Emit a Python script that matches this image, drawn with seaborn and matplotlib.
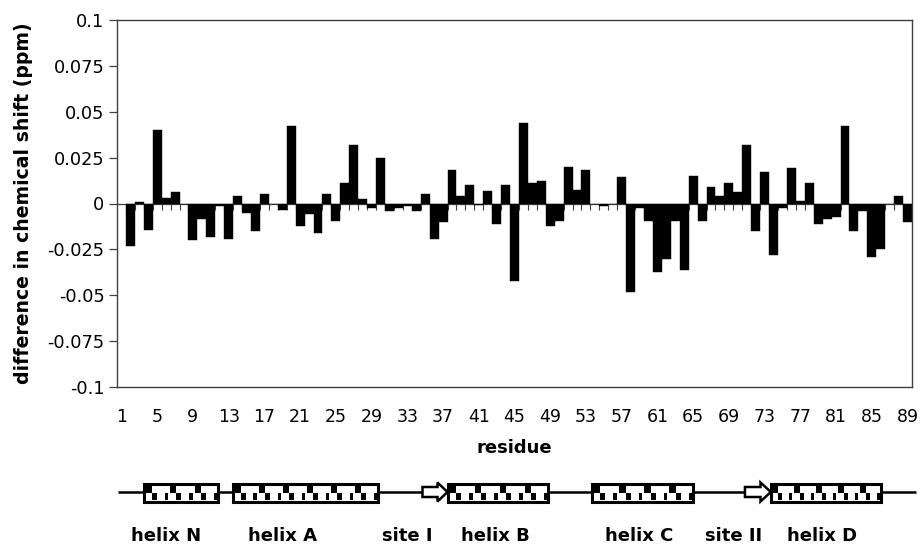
import numpy as np
import pandas as pd
import matplotlib
matplotlib.use("Agg")
import matplotlib.pyplot as plt
from matplotlib.patches import Rectangle, Polygon
from matplotlib.ticker import FuncFormatter
import seaborn as sns

# ---------------- data ----------------
residues = list(range(1, 90))
shift_diff = [np.nan, -0.023, 0.001, -0.0145, 0.040, 0.003, 0.006, 0.0, -0.020, -0.0085,
              -0.018, -0.0015, -0.0195, 0.0043, -0.0054, -0.015, 0.0054, 0.0, -0.0036, 0.042,
              -0.012, -0.0055, -0.016, 0.0054, -0.0094, 0.0114, 0.032, 0.0024, -0.0022, 0.025,
              -0.0042, -0.0027, -0.0015, -0.0042, 0.0054, -0.0196, -0.0101, 0.018, 0.0043, 0.0103,
              -0.001, 0.0067, -0.0114, 0.0103, -0.042, 0.044, 0.0114, 0.0123, -0.012, -0.0094,
              0.020, 0.0072, 0.018, 0.0, -0.0013, 0.0, 0.0145, -0.048, -0.0024, -0.0094,
              -0.0375, -0.0304, -0.0094, -0.036, 0.015, -0.0094, 0.0092, 0.0043, 0.0114, 0.0062,
              0.032, -0.015, 0.0174, -0.028, -0.0024, 0.0196, 0.0013, 0.0114, -0.0114, -0.0085,
              -0.0072, 0.042, -0.015, -0.0043, -0.029, -0.025, 0.0, 0.0043, -0.010]
x_tick_labels = list(range(1, 90, 4))
y_ticks = [-0.1, -0.075, -0.05, -0.025, 0, 0.025, 0.05, 0.075, 0.1]

# secondary-structure schematic (residue units)
helix_names = ["helix N", "helix A", "helix B", "helix C", "helix D"]
helix_start = [3.5, 13.5, 37.6, 53.7, 73.7]
helix_end = [11.8, 29.7, 48.8, 65.0, 86.0]
helix_label_pos = [6.0, 19.0, 42.9, 59.0, 79.4]
site_names = ["site I", "site II"]
site_start = [34.7, 70.8]
site_end = [37.5, 73.7]
site_label_pos = [33.0, 69.5]

df = pd.DataFrame({"residue": residues, "shift": shift_diff})

# ---------------- figure ----------------
sns.set_theme(style="white")
plt.rcParams["font.family"] = ["DejaVu Sans"]

W, H = 922, 544
fig = plt.figure(figsize=(W / 100, H / 100), dpi=100)
fig.patch.set_facecolor("white")
ax = fig.add_axes([117 / W, 1 - 387 / H, (912 - 117) / W, (387 - 20) / H])

# baseline & category boundary ticks (under bars)
bounds = np.array(residues[:-1]) + 0.5
ax.axhline(0, color="#404040", lw=0.9, zorder=1)
ax.vlines(bounds, -0.0036, 0, color="#404040", lw=0.8, zorder=1)

sns.barplot(data=df, x="residue", y="shift", native_scale=True, width=1,
            color="black", saturation=1, errorbar=None, ax=ax,
            edgecolor="black", linewidth=0.3, zorder=2)

ax.set_xlim(0.5, 89.5)
ax.set_ylim(-0.1, 0.1)
ax.set_xticks(x_tick_labels)
ax.set_xticklabels([str(v) for v in x_tick_labels])
ax.set_yticks(y_ticks)
ax.yaxis.set_major_formatter(FuncFormatter(lambda v, p: "%g" % round(v, 4)))

ax.tick_params(axis="x", length=0, pad=15, labelsize=12.5, colors="black")
ax.tick_params(axis="y", length=6, width=0.9, direction="out", pad=3,
               labelsize=12.8, colors="black", color="#404040", left=True)
for s in ax.spines.values():
    s.set_visible(True)
    s.set_color("#404040")
    s.set_linewidth(1.0)

ax.set_xlabel("residue", fontsize=13, fontweight="bold", color="black")
ax.xaxis.set_label_coords(0.5, (387 - 448) / 367)
ax.xaxis.label.set_va("center")
ax.set_ylabel("difference in chemical shift (ppm)", fontsize=13.6,
              fontweight="bold", color="black")
ax.yaxis.set_label_coords((24 - 117) / 795, 0.5)
ax.yaxis.label.set_va("center")

# ---------------- schematic ----------------
ax2 = fig.add_axes([117 / W, 0, (912 - 117) / W, 76 / H])
ax2.set_xlim(0.5, 89.5)
ax2.set_ylim(544, 468)
ax2.axis("off")

line_y = 492
ax2.plot([0.6, 89.9], [line_y, line_y], color="black", lw=1.8,
         clip_on=False, zorder=1, solid_capstyle="butt")

box_top, box_h = 483.5, 18
unit = 2.7
for name, s, e, lp in zip(helix_names, helix_start, helix_end, helix_label_pos):
    ax2.add_patch(Rectangle((s, box_top), e - s, box_h, facecolor="white",
                            edgecolor="black", lw=2.2, zorder=3, clip_on=False))
    n = max(1, int(round((e - s) / unit)))
    u = (e - s) / n
    inner_top = box_top + 2.0
    inner_h = box_h - 4
    for i in range(n):
        x0 = s + i * u
        ax2.add_patch(Rectangle((x0 + 0.06 * u, inner_top), 0.26 * u, inner_h * 0.5,
                                facecolor="black", edgecolor="none", zorder=4, clip_on=False))
        ax2.add_patch(Rectangle((x0 + 0.32 * u, inner_top + inner_h * 0.5), 0.2 * u,
                                inner_h * 0.5, facecolor="black", edgecolor="none",
                                zorder=4, clip_on=False))
        ax2.add_patch(Rectangle((x0 + 0.84 * u, inner_top + inner_h * 0.5), 0.14 * u,
                                inner_h * 0.5, facecolor="black", edgecolor="none",
                                zorder=4, clip_on=False))
    ax2.text(lp, 536, name, ha="center", va="center", fontsize=13,
             fontweight="bold", color="black")

for name, s, e, lp in zip(site_names, site_start, site_end, site_label_pos):
    L = e - s
    sx = s + 0.6 * L
    pts = [(s, line_y - 5), (sx, line_y - 5), (sx, line_y - 9.5), (e, line_y),
           (sx, line_y + 9.5), (sx, line_y + 5), (s, line_y + 5)]
    ax2.add_patch(Polygon(pts, closed=True, facecolor="white", edgecolor="black",
                          lw=1.8, zorder=3, clip_on=False, joinstyle="miter"))
    ax2.text(lp, 536, name, ha="center", va="center", fontsize=13,
             fontweight="bold", color="black")

fig.savefig("out.png", dpi=100, facecolor="white")
